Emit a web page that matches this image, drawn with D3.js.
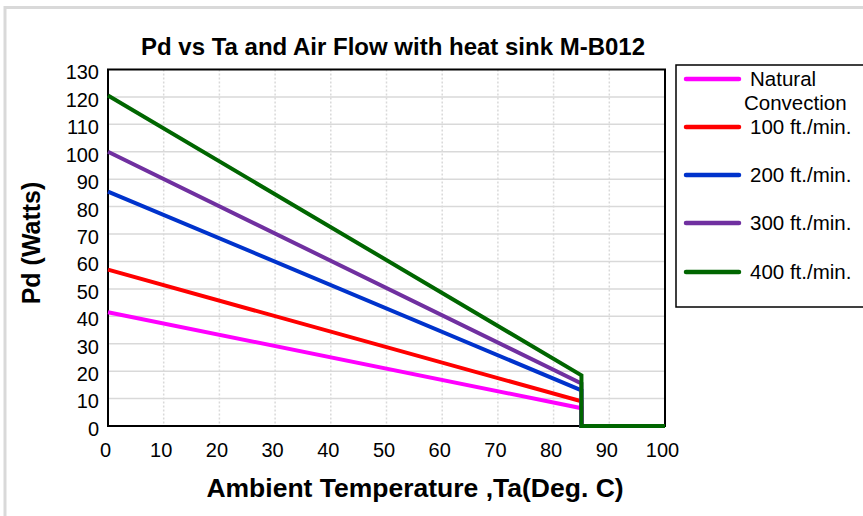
<!DOCTYPE html>
<html>
<head>
<meta charset="utf-8">
<script src="https://cdn.jsdelivr.net/npm/d3@7"></script>
<style>
  html, body { margin: 0; padding: 0; background: #fff; }
  svg { display: block; font-family: "Liberation Sans", Arial, sans-serif; }
</style>
</head>
<body>
<svg id="chart" width="863" height="516"></svg>
<script>
// ---- data ----
const ambientTemps = [0, 85, 85, 100];
const naturalConvection = [41.5, 6.5, 0, 0];
const flow100 = [57, 9, 0, 0];
const flow200 = [85.5, 13, 0, 0];
const flow300 = [100, 15.5, 0, 0];
const flow400 = [120.5, 18.5, 0, 0];
const seriesNames = ["Natural Convection", "100 ft./min.", "200 ft./min.", "300 ft./min.", "400 ft./min."];
const seriesColors = ["#FF00FF", "#FF0000", "#0033CC", "#7030A0", "#006600"];
const xTicks = [0, 10, 20, 30, 40, 50, 60, 70, 80, 90, 100];
const yTicks = [0, 10, 20, 30, 40, 50, 60, 70, 80, 90, 100, 110, 120, 130];
const titleText = "Pd vs Ta and Air Flow with heat sink M-B012";
const xTitle = "Ambient Temperature ,Ta(Deg. C)";
const yTitle = "Pd (Watts)";

const allSeries = [naturalConvection, flow100, flow200, flow300, flow400].map((vals, i) => ({
  name: seriesNames[i],
  color: seriesColors[i],
  points: vals.map((v, j) => [ambientTemps[j], v])
}));

const svg = d3.select("#chart");

// outer chart frame
svg.append("rect").attr("x", 5).attr("y", 7.5).attr("width", 900).attr("height", 560)
  .attr("fill", "#fff").attr("stroke", "#d9d9d9").attr("stroke-width", 3);

const plot = { left: 108, right: 665, top: 69.5, bottom: 426 };
const x = d3.scaleLinear().domain([0, 100]).range([plot.left, plot.right]);
const y = d3.scaleLinear().domain([0, 130]).range([plot.bottom, plot.top]);

// gridlines
svg.append("g").selectAll("line").data(yTicks.filter(d => d > 0 && d < 130)).join("line")
  .attr("x1", plot.left).attr("x2", plot.right)
  .attr("y1", d => y(d)).attr("y2", d => y(d))
  .attr("stroke", "#d9d9d9").attr("stroke-width", 1.5);
svg.append("g").selectAll("line").data(xTicks.filter(d => d > 0 && d < 100)).join("line")
  .attr("x1", d => x(d)).attr("x2", d => x(d))
  .attr("y1", plot.top).attr("y2", plot.bottom)
  .attr("stroke", "#d9d9d9").attr("stroke-width", 1.5).attr("stroke-dasharray", "2,2");

// plot border
svg.append("rect").attr("x", plot.left).attr("y", plot.top)
  .attr("width", plot.right - plot.left).attr("height", plot.bottom - plot.top)
  .attr("fill", "none").attr("stroke", "#000").attr("stroke-width", 2);

// axes (labels only)
const xAxis = d3.axisBottom(x).tickValues(xTicks).tickSize(0).tickPadding(0);
const gx = svg.append("g").attr("transform", `translate(-3,${plot.bottom + 17})`).call(xAxis);
gx.select(".domain").remove();
gx.selectAll("text").attr("font-size", 20).attr("fill", "#000")
  .attr("font-family", "Liberation Sans, Arial, sans-serif");

const yAxis = d3.axisLeft(y).tickValues(yTicks).tickSize(0).tickPadding(0);
const gy = svg.append("g").attr("transform", `translate(${plot.left - 9},3)`).call(yAxis);
gy.select(".domain").remove();
gy.selectAll("text").attr("font-size", 20).attr("fill", "#000")
  .attr("font-family", "Liberation Sans, Arial, sans-serif");

// lines
const line = d3.line().x(d => x(d[0])).y(d => y(d[1]));
svg.append("g").selectAll("path").data(allSeries).join("path")
  .attr("d", d => line(d.points))
  .attr("fill", "none").attr("stroke", d => d.color)
  .attr("stroke-width", 4).attr("stroke-linejoin", "miter");

// titles
svg.append("text").attr("x", 393).attr("y", 55).attr("text-anchor", "middle")
  .attr("font-size", 24).attr("font-weight", "bold").text(titleText);
svg.append("text").attr("x", 415).attr("y", 497).attr("text-anchor", "middle")
  .attr("font-size", 26.5).attr("font-weight", "bold").text(xTitle);
svg.append("text").attr("transform", "translate(40,243) rotate(-90)").attr("text-anchor", "middle")
  .attr("font-size", 25).attr("font-weight", "bold").text(yTitle);

// legend
svg.append("rect").attr("x", 676).attr("y", 65).attr("width", 220).attr("height", 242)
  .attr("fill", "#fff").attr("stroke", "#000").attr("stroke-width", 1.5);
const legendY = [79, 127, 175, 223, 272];
const lg = svg.append("g").selectAll("g").data(allSeries).join("g")
  .attr("transform", (d, i) => `translate(0,${legendY[i]})`);
lg.append("line").attr("x1", 686).attr("x2", 739).attr("y1", 0).attr("y2", 0)
  .attr("stroke", d => d.color).attr("stroke-width", 4.5).attr("stroke-linecap", "round");
lg.each(function(d, i) {
  const g = d3.select(this);
  if (i === 0) {
    g.append("text").attr("x", 750).attr("y", 7).attr("font-size", 20.5).text("Natural");
    g.append("text").attr("x", 744).attr("y", 31).attr("font-size", 20.5).text("Convection");
  } else {
    g.append("text").attr("x", 750).attr("y", 7).attr("font-size", 20.5).text(d.name);
  }
});
</script>
</body>
</html>
